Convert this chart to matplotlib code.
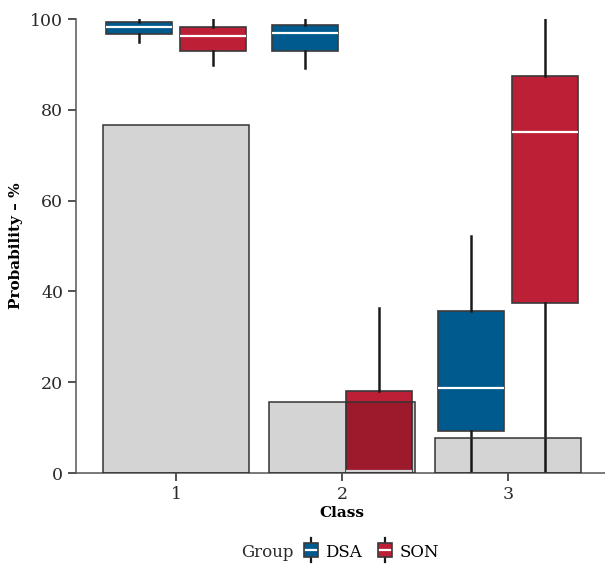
import numpy as np
import matplotlib.pyplot as plt
from matplotlib.lines import Line2D
from matplotlib.patches import Rectangle
from matplotlib.legend_handler import HandlerBase

plt.rcParams['font.family'] = ['DejaVu Serif']

# data
classes = ['1', '2', '3']
class_share = [76.7, 15.6, 7.7]          # grey bars, % per class
groups = ['DSA', 'SON']
group_colors = {'DSA': '#005a8e', 'SON': '#bd1f36'}

# box stats per group, per class: (whislo, q1, med, q3, whishi)
box_dsa = [(94.9, 96.6, 98.3, 99.3, 100.0),
           (89.3, 93.0, 96.9, 98.6, 100.0),
           (0.0, 9.3, 18.8, 35.7, 52.2)]
box_son = [(89.8, 93.0, 96.3, 98.2, 99.9),
           (0.0, 0.3, 0.5, 18.1, 36.3),
           (0.0, 37.5, 75.1, 87.4, 100.0)]


class BoxKey(HandlerBase):
    # small boxplot glyph for the legend
    def create_artists(self, legend, orig, xd, yd, width, height, fontsize, trans):
        cx = xd + width / 2
        cy = yd + height / 2 - 0.12 * height
        whisk = Line2D([cx, cx], [cy - 0.85 * height, cy + 0.85 * height],
                       color='#1a1a1a', linewidth=1.6, transform=trans)
        box = Rectangle((xd, cy - 0.5 * height), width, height,
                        facecolor=orig.get_facecolor(), edgecolor='#3a3a3a',
                        linewidth=1.2, transform=trans)
        med = Line2D([xd + 1, xd + width - 1], [cy, cy],
                     color='white', linewidth=1.6, transform=trans)
        return [whisk, box, med]


fig = plt.figure(figsize=(6.05, 5.66), dpi=100)
ax = fig.add_axes([0.1263, 0.1643, 0.878, 0.8021])

x = np.arange(1, len(classes) + 1)
offset = 0.223
for g, boxes, sign in [('DSA', box_dsa, -1), ('SON', box_son, 1)]:
    stats = [dict(whislo=b[0], q1=b[1], med=b[2], q3=b[3], whishi=b[4], fliers=[])
             for b in boxes]
    ax.bxp(stats, positions=x + sign * offset, widths=0.4, patch_artist=True,
           showcaps=False, showfliers=False, manage_ticks=False,
           boxprops=dict(facecolor=group_colors[g], edgecolor='#3a3a3a', linewidth=1.2),
           medianprops=dict(color='white', linewidth=1.6),
           whiskerprops=dict(color='#1a1a1a', linewidth=1.8),
           zorder=2)

# grey bars drawn on top as a darkening layer
ax.bar(x, class_share, width=0.885, color=(0, 0, 0, 0.17),
       edgecolor='#333333', linewidth=1.1, zorder=3)

ax.set_xlim(0.4, 3.6)
ax.set_ylim(0, 100)
ax.set_xticks(x)
ax.set_xticklabels(classes)
ax.set_yticks(range(0, 101, 20))
ax.tick_params(labelsize=12.5, length=6, width=1.1, color='#222222', labelcolor='#2a2a2a')
for s in ['top', 'right']:
    ax.spines[s].set_visible(False)
for s in ['left', 'bottom']:
    ax.spines[s].set_color('#555555')
    ax.spines[s].set_linewidth(1.1)
ax.set_xlabel('Class', fontsize=11, fontweight='bold', labelpad=2)
ax.set_ylabel('Probability – %', fontsize=11, fontweight='bold', labelpad=5)

# legend
handles = [Rectangle((0, 0), 1, 1, facecolor=group_colors[g]) for g in groups]
fig.text(0.486, 0.024, 'Group', fontsize=12, ha='right', va='center', color='#2a2a2a')
fig.legend(handles, groups, loc='center left', bbox_to_anchor=(0.489, 0.024), ncol=2,
           frameon=False, fontsize=12, handlelength=0.8, handleheight=0.95,
           handletextpad=0.45, columnspacing=1.0, borderpad=0,
           handler_map={Rectangle: BoxKey()})
fig.savefig('out.png', dpi=100)
